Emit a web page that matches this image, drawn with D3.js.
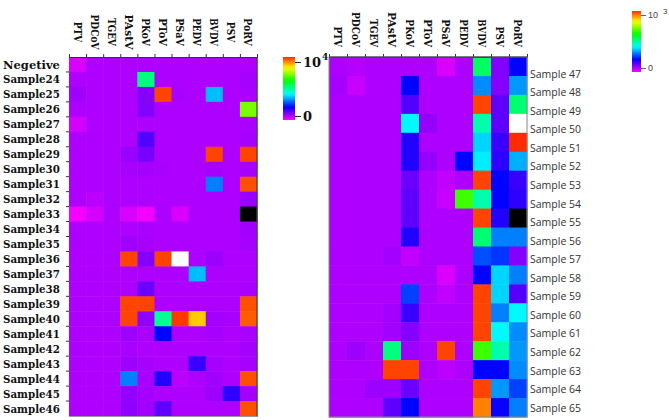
<!DOCTYPE html>
<html>
<head>
<meta charset="utf-8">
<script src="https://cdn.jsdelivr.net/npm/d3@7"></script>
<style>
  html, body { margin: 0; padding: 0; background: #fff; }
  svg { display: block; }
</style>
</head>
<body>
<svg id="chart" width="669" height="420"></svg>
<script>
// ---------------- DATA ----------------
const viruses = ["PTV", "PDCoV", "TGEV", "PAstV", "PKoV", "PToV", "PSaV", "PEDV", "BVDV", "PSV", "PoRV"];

const leftSamples = ["Negetive", "Sample24", "Sample25", "Sample26", "Sample27", "Sample28", "Sample29",
  "Sample30", "Sample31", "Sample32", "Sample33", "Sample34", "Sample35", "Sample36", "Sample37",
  "Sample38", "Sample39", "Sample40", "Sample41", "Sample42", "Sample43", "Sample44", "Sample45", "Sample46"];

// copies (scale max 10^4); null = no value (black), above max = saturated (white)
const leftValues = [
  [300, 650, 660, 660, 660, 660, 660, 660, 660, 660, 650],
  [650, 660, 660, 660, 5200, 660, 660, 660, 650, 660, 720],
  [760, 660, 660, 660, 1000, 9800, 690, 660, 3600, 660, 690],
  [660, 660, 660, 660, 980, 660, 660, 660, 660, 660, 7200],
  [350, 640, 660, 660, 660, 660, 660, 660, 660, 660, 690],
  [660, 660, 660, 660, 1400, 660, 660, 660, 660, 660, 720],
  [660, 660, 660, 820, 1100, 660, 660, 660, 9800, 660, 9800],
  [660, 660, 660, 710, 730, 700, 660, 660, 710, 660, 720],
  [660, 660, 660, 660, 660, 660, 660, 660, 3100, 660, 9700],
  [660, 560, 660, 660, 660, 660, 660, 660, 660, 660, 820],
  [80, 330, 660, 320, 100, 660, 300, 660, 660, 660, null],
  [660, 660, 660, 660, 690, 660, 660, 660, 660, 660, 760],
  [660, 660, 660, 770, 710, 660, 660, 660, 660, 660, 720],
  [660, 660, 660, 9800, 1000, 9800, 20000, 660, 800, 660, 660],
  [660, 660, 660, 660, 660, 660, 660, 3600, 660, 660, 660],
  [660, 660, 660, 660, 1200, 660, 660, 660, 660, 660, 690],
  [660, 660, 660, 9800, 9800, 660, 660, 660, 660, 660, 9700],
  [660, 660, 660, 9800, 900, 5000, 9900, 8700, 740, 710, 9600],
  [660, 660, 660, 790, 700, 2100, 660, 660, 710, 660, 690],
  [660, 660, 660, 690, 660, 660, 660, 660, 660, 660, 730],
  [660, 660, 660, 790, 710, 660, 660, 1600, 710, 660, 710],
  [660, 660, 660, 3100, 710, 1800, 560, 660, 760, 660, 9700],
  [660, 660, 660, 880, 730, 660, 660, 660, 800, 1700, 740],
  [660, 660, 660, 900, 760, 1300, 660, 660, 660, 660, 9700]
];

const rightSamples = ["Sample 47", "Sample 48", "Sample 49", "Sample 50", "Sample 51", "Sample 52",
  "Sample 53", "Sample 54", "Sample 55", "Sample 56", "Sample 57", "Sample 58", "Sample 59",
  "Sample 60", "Sample 61", "Sample 62", "Sample 63", "Sample 64", "Sample 65"];

// copies (scale max 10^3)
const rightValues = [
  [66, 60, 66, 66, 66, 66, 30, 66, 540, 100, 210],
  [72, 45, 66, 66, 210, 66, 66, 66, 320, 100, 330],
  [66, 66, 66, 66, 140, 66, 66, 66, 980, 130, 530],
  [66, 66, 66, 66, 410, 85, 66, 66, 480, 130, 2000],
  [66, 66, 66, 66, 180, 66, 66, 66, 380, 160, 1000],
  [66, 66, 66, 66, 180, 85, 66, 210, 400, 170, 350],
  [66, 66, 66, 66, 120, 66, 50, 66, 980, 210, 160],
  [66, 66, 66, 66, 130, 66, 45, 670, 480, 210, 170],
  [66, 66, 66, 66, 130, 66, 66, 66, 980, 180, null],
  [66, 66, 66, 66, 180, 66, 66, 66, 530, 310, 310],
  [66, 66, 66, 75, 50, 66, 66, 66, 270, 250, 100],
  [66, 66, 66, 66, 66, 66, 30, 66, 210, 380, 310],
  [66, 66, 66, 66, 260, 66, 50, 66, 980, 380, 140],
  [66, 66, 66, 75, 160, 66, 66, 66, 980, 310, 410],
  [66, 66, 66, 75, 100, 66, 66, 66, 980, 410, 320],
  [66, 80, 66, 520, 80, 66, 980, 66, 670, 480, 330],
  [66, 66, 66, 980, 980, 66, 55, 66, 210, 210, 320],
  [66, 66, 80, 80, 120, 66, 66, 66, 980, 330, 260],
  [66, 66, 66, 130, 210, 66, 66, 66, 930, 200, 310]
];

const leftMax = 10000, leftExp = "4";
const rightMax = 1000, rightExp = "3";

// ---------------- DRAW ----------------
const svg = d3.select("#chart");
svg.append("rect").attr("width", 669).attr("height", 420).attr("fill", "#fff");

const hue = d3.scaleLinear().domain([0, 1]).range([300, 10]);
function colorFor(v, max) {
  if (v === null) return "#000";
  if (v > max) return "#fff";
  return d3.hsl(hue(Math.max(0, v) / max), 1, 0.5).formatHex();
}

const serifFont = "'DejaVu Serif', 'Liberation Serif', serif";
const charW = 7.3; // monospaced look: fixed advance per character

function heatmap(opts) {
  const { values, rows, max, x0, x1, y0, y1 } = opts;
  const x = d3.scaleBand().domain(viruses).range([x0, x1]);
  const y = d3.scaleBand().domain(rows).range([y0, y1]);
  const g = svg.append("g");
  rows.forEach((r, i) => {
    g.selectAll(null).data(values[i]).enter().append("rect")
      .attr("x", (d, j) => x(viruses[j]))
      .attr("y", y(r))
      .attr("width", x.bandwidth() + 0.5)
      .attr("height", y.bandwidth() + 0.5)
      .attr("fill", d => colorFor(d, max));
  });
  return { x, y, g };
}

function monoText(sel, size) {
  sel.attr("font-family", serifFont).attr("font-weight", "bold").attr("font-size", size)
    .attr("fill", "#111")
    .attr("textLength", d => d.length * charW - 1.5)
    .attr("lengthAdjust", "spacingAndGlyphs");
}

// Left heatmap
const L = heatmap({ values: leftValues, rows: leftSamples, max: leftMax, x0: 69, x1: 257, y0: 57, y1: 416 });
const topAxisL = d3.axisTop(d3.scaleLinear().domain([0, viruses.length]).range([69, 257]))
  .ticks(viruses.length).tickSize(3).tickFormat("");
svg.append("g").attr("transform", "translate(0,57)").call(topAxisL)
  .call(g => g.selectAll("path,line").attr("stroke", "#333"));
const rowEdgeL = d3.scaleLinear().domain([0, leftSamples.length]).range([57, 416]);
svg.append("g").selectAll("line").data(d3.range(1, leftSamples.length)).enter().append("line")
  .attr("x1", 66).attr("x2", 69).attr("y1", d => rowEdgeL(d)).attr("y2", d => rowEdgeL(d))
  .attr("stroke", "#333");
svg.append("line").attr("x1", 257).attr("x2", 257).attr("y1", 57).attr("y2", 417).attr("stroke", "#444").attr("stroke-width", 1.2);
svg.append("line").attr("x1", 69).attr("x2", 257).attr("y1", 416.5).attr("y2", 416.5).attr("stroke", "#999");
svg.append("g").selectAll("text").data(leftSamples).enter().append("text")
  .attr("x", 3).attr("y", d => L.y(d) + L.y.bandwidth() / 2)
  .attr("dy", "0.35em")
  .call(monoText, 11.5)
  .text(d => d);
svg.append("g").selectAll("text").data(viruses).enter().append("text")
  .attr("transform", d => `translate(${L.x(d) + L.x.bandwidth() / 2},32) rotate(90)`)
  .attr("text-anchor", "middle").attr("dy", "0.35em")
  .call(monoText, 11.5)
  .text(d => d);

// Right heatmap
const R = heatmap({ values: rightValues, rows: rightSamples, max: rightMax, x0: 329, x1: 527, y0: 57, y1: 417 });
const topAxisR = d3.axisTop(d3.scaleLinear().domain([0, viruses.length]).range([329, 527]))
  .ticks(viruses.length).tickSize(3).tickFormat("");
svg.append("g").attr("transform", "translate(0,57)").call(topAxisR)
  .call(g => g.selectAll("path,line").attr("stroke", "#333"));
svg.append("rect").attr("x", 329).attr("y", 57).attr("width", 198).attr("height", 360)
  .attr("fill", "none").attr("stroke", "#888").attr("stroke-width", 1);
svg.append("line").attr("x1", 329).attr("x2", 527).attr("y1", 57).attr("y2", 57).attr("stroke", "#333");
svg.append("g").selectAll("text").data(viruses).enter().append("text")
  .attr("transform", d => `translate(${R.x(d) + R.x.bandwidth() / 2},47) rotate(90)`)
  .attr("text-anchor", "end").attr("dy", "0.35em")
  .call(monoText, 11.5)
  .text(d => d);
const labelY = d3.scalePoint().domain(rightSamples).range([74, 408]);
svg.append("g").selectAll("text").data(rightSamples).enter().append("text")
  .attr("x", 530).attr("y", d => labelY(d)).attr("dy", "0.35em")
  .attr("font-family", "'Open Sans', 'Liberation Sans', sans-serif").attr("font-size", 10.5)
  .attr("fill", "#333")
  .text(d => d);

// ---------------- COLOUR BARS ----------------
const defs = svg.append("defs");
const grad = defs.append("linearGradient").attr("id", "cbar")
  .attr("x1", "0").attr("y1", "1").attr("x2", "0").attr("y2", "0");
grad.selectAll("stop").data(d3.range(0, 1.0001, 0.05)).enter().append("stop")
  .attr("offset", d => d).attr("stop-color", d => d3.hsl(hue(d), 1, 0.5).formatHex());

function colorbar(o) {
  svg.append("rect").attr("x", o.x).attr("y", o.y0).attr("width", o.w).attr("height", o.y1 - o.y0)
    .attr("fill", "url(#cbar)");
  const s = d3.scaleLinear().domain([0, o.max]).range([o.y1 - o.inset0, o.y0 + o.inset1]);
  const ax = d3.axisRight(s).tickValues([0, o.max]).tickSize(o.tick).tickFormat(d => d === 0 ? "0" : "10");
  const g = svg.append("g").attr("transform", `translate(${o.x + o.w},0)`).call(ax);
  g.select(".domain").remove();
  g.selectAll("line").attr("stroke", o.tickColor);
  g.selectAll("text").attr("font-family", o.font).attr("font-weight", o.weight)
    .attr("font-size", o.size).attr("fill", o.textColor).attr("x", o.tick + 2);
  g.selectAll(".tick").filter(d => d === o.max).select("text")
    .append("tspan").attr("dy", o.supDy).attr("dx", o.supDx).attr("font-size", o.supSize).text(o.exp);
}

colorbar({ x: 283, w: 12, y0: 57, y1: 120, max: leftMax, inset0: 4, inset1: 5, tick: 6,
  tickColor: "#222", font: serifFont, weight: "bold", size: 13, textColor: "#111",
  exp: leftExp, supDy: "-0.7em", supDx: 1, supSize: 9 });
colorbar({ x: 632, w: 9, y0: 11, y1: 72, max: rightMax, inset0: 4, inset1: 4, tick: 5,
  tickColor: "#666", font: "'Liberation Sans', sans-serif", weight: "normal", size: 9, textColor: "#444",
  exp: rightExp, supDy: "-0.5em", supDx: 5, supSize: 8 });
</script>
</body>
</html>
